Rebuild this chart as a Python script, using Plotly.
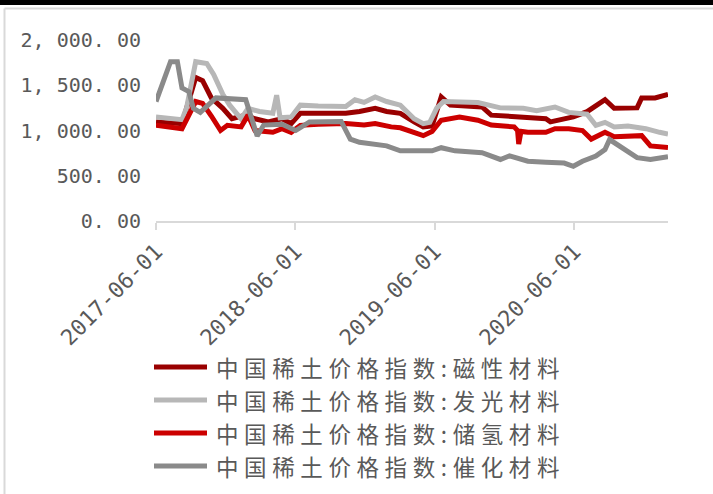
import plotly.graph_objects as go

# ---------------- data ----------------
names = ["中国稀土价格指数:磁性材料", "中国稀土价格指数:发光材料",
         "中国稀土价格指数:储氢材料", "中国稀土价格指数:催化材料"]

mag_dates = ["2017-06-01", "2017-08-08", "2017-09-13", "2017-10-01", "2017-10-24", "2017-11-23",
             "2017-12-17", "2018-01-22", "2018-02-15", "2018-03-22", "2018-04-27", "2018-05-21",
             "2018-06-14", "2018-10-11", "2018-11-16", "2018-12-27", "2019-01-26", "2019-03-03",
             "2019-04-08", "2019-05-02", "2019-05-25", "2019-06-18", "2019-07-12", "2019-10-03",
             "2019-10-27", "2020-01-19", "2020-03-18", "2020-03-30", "2020-05-29", "2020-07-04",
             "2020-08-20", "2020-09-13", "2020-11-12", "2020-11-24", "2020-12-29", "2021-02-01"]
mag_values = [1095, 1075, 1585, 1550, 1360, 1245,
              1130, 1170, 1130, 1095, 1130, 1075,
              1190, 1190, 1210, 1245, 1210, 1190,
              1095, 1040, 1050, 1370, 1280, 1260,
              1170, 1150, 1130, 1095, 1150, 1208,
              1340, 1245, 1250, 1360, 1360, 1400]

lum_dates = ["2017-06-01", "2017-08-08", "2017-08-20", "2017-09-13", "2017-10-12", "2017-10-30",
             "2017-11-23", "2017-12-11", "2018-01-10", "2018-01-28", "2018-02-27", "2018-04-03",
             "2018-04-13", "2018-04-22", "2018-05-21", "2018-06-14", "2018-07-31", "2018-10-11",
             "2018-11-04", "2018-11-28", "2018-12-27", "2019-01-26", "2019-03-03", "2019-04-08",
             "2019-05-02", "2019-05-19", "2019-06-06", "2019-06-24", "2019-09-22", "2019-10-27",
             "2019-11-20", "2020-01-19", "2020-02-23", "2020-04-11", "2020-05-17", "2020-07-04",
             "2020-07-27", "2020-08-20", "2020-09-13", "2020-10-19", "2020-12-05", "2021-01-10",
             "2021-02-01"]
lum_values = [1150, 1120, 1250, 1760, 1740, 1620,
              1400, 1280, 1130, 1245, 1210, 1190,
              1390, 1140, 1150, 1280, 1270, 1265,
              1340, 1310, 1370, 1320, 1280, 1130,
              1075, 1090, 1245, 1320, 1310, 1280,
              1250, 1245, 1220, 1260, 1200, 1180,
              1057, 1090, 1040, 1050, 1020, 980,
              960]

hyd_dates = ["2017-06-01", "2017-08-08", "2017-09-13", "2017-10-01", "2017-10-24", "2017-11-17",
             "2017-12-05", "2018-01-10", "2018-01-28", "2018-02-15", "2018-04-03", "2018-04-27",
             "2018-05-21", "2018-06-14", "2018-07-31", "2018-10-11", "2018-11-28", "2018-12-27",
             "2019-02-07", "2019-03-03", "2019-05-02", "2019-05-25", "2019-06-18", "2019-08-05",
             "2019-09-22", "2019-10-27", "2019-12-26", "2020-01-04", "2020-01-07", "2020-01-13",
             "2020-01-31", "2020-03-18", "2020-04-11", "2020-05-17", "2020-06-22", "2020-07-15",
             "2020-08-20", "2020-09-13", "2020-11-24", "2020-12-17", "2021-02-01"]
hyd_values = [1057, 1020, 1320, 1300, 1160, 1000,
              1057, 1040, 1170, 1000, 980, 1020,
              980, 1057, 1070, 1077, 1060, 1077,
              1040, 1030, 943, 990, 1113, 1150,
              1113, 1060, 1040, 1000, 850, 990,
              980, 980, 1020, 1020, 1000, 905,
              980, 930, 943, 830, 811]

cat_dates = ["2017-06-01", "2017-06-21", "2017-07-09", "2017-07-27", "2017-08-08", "2017-08-26",
             "2017-09-07", "2017-09-25", "2017-11-05", "2018-01-22", "2018-02-21", "2018-03-10",
             "2018-04-27", "2018-06-02", "2018-07-08", "2018-09-29", "2018-10-23", "2018-11-16",
             "2019-01-26", "2019-03-03", "2019-05-25", "2019-06-18", "2019-07-24", "2019-10-03",
             "2019-11-20", "2019-12-14", "2020-01-31", "2020-03-18", "2020-05-05", "2020-05-29",
             "2020-06-22", "2020-07-27", "2020-08-20", "2020-09-01", "2020-09-25", "2020-10-19",
             "2020-11-12", "2020-12-17", "2021-02-01"]
cat_values = [1320, 1560, 1760, 1760, 1470, 1430,
              1245, 1200, 1360, 1340, 940, 1060,
              1070, 1000, 1095, 1100, 905, 870,
              830, 775, 775, 810, 775, 755,
              680, 720, 660, 650, 640, 605,
              660, 717, 790, 900, 830, 760,
              700, 680, 710]

x_ticks = ["2017-06-01", "2018-06-01", "2019-06-01", "2020-06-01"]
y_ticks = [0, 500, 1000, 1500, 2000]
y_tick_labels = ["0. 00", "500. 00", "1, 000. 00", "1, 500. 00", "2, 000. 00"]

# ---------------- styling ----------------
colors = ["#990000", "#b7b7b7", "#cc0000", "#8a8a8a"]
W, H = 713, 494
L, R, T, B = 156, 45, 40, 273
PW, PH = W - L - R, H - T - B
TXT = "#595959"


def px(x):
    return (x - L) / PW


def py(y):
    return (H - B - y) / PH


fig = go.Figure()
series = [(mag_dates, mag_values), (lum_dates, lum_values),
          (hyd_dates, hyd_values), (cat_dates, cat_values)]
for (d, v), n, c in zip(series, names, colors):
    fig.add_trace(go.Scatter(x=d, y=v, name=n, mode="lines",
                             line=dict(color=c, width=5), showlegend=False))

shapes = [
    # frame pieces of the original picture
    dict(type="rect", xref="paper", yref="paper", x0=px(0), x1=px(W), y0=py(0), y1=py(5),
         fillcolor="black", line=dict(width=0), layer="above"),
    dict(type="line", xref="paper", yref="paper", x0=px(4.5), x1=px(W), y0=py(8.5), y1=py(8.5),
         line=dict(color="#d9d9d9", width=2)),
    dict(type="line", xref="paper", yref="paper", x0=px(4.5), x1=px(4.5), y0=py(8.5), y1=py(H),
         line=dict(color="#d9d9d9", width=2)),
]
annotations = []
rows = [367, 400, 433, 466]
for n, c, ry in zip(names, colors, rows):
    shapes.append(dict(type="line", xref="paper", yref="paper", x0=px(154), x1=px(207),
                       y0=py(ry), y1=py(ry), line=dict(color=c, width=5)))
    annotations.append(dict(xref="paper", yref="paper", x=px(214), y=py(ry), text=n,
                            showarrow=False, xanchor="left", yanchor="middle", align="left",
                            font=dict(family="Noto Sans CJK SC", size=22.5, color=TXT)))

fig.update_layout(
    width=W, height=H,
    margin=dict(l=L, r=R, t=T, b=B),
    paper_bgcolor="white", plot_bgcolor="white",
    shapes=shapes, annotations=annotations,
    xaxis=dict(type="date", range=["2017-06-01", "2021-02-01"],
               tickvals=x_ticks, ticktext=x_ticks, tickangle=-45,
               showgrid=False, zeroline=False,
               showline=True, linecolor="#d9d9d9", linewidth=2,
               ticks="outside", ticklen=7, tickcolor="#d9d9d9", tickwidth=2,
               tickfont=dict(family="DejaVu Sans Mono", size=22, color=TXT)),
    yaxis=dict(range=[0, 2000], tickvals=y_ticks, ticktext=y_tick_labels,
               showgrid=False, zeroline=False, showline=False,
               ticks="", ticklabelstandoff=14,
               tickfont=dict(family="DejaVu Sans Mono", size=20, color=TXT)),
)

post = """
document.body.style.margin = '0';
document.body.style.overflow = 'hidden';
var bar = document.createElement('div');
bar.style.cssText = 'position:fixed;left:0;top:0;width:100%;height:5px;background:#000;z-index:10;';
document.body.appendChild(bar);
document.querySelectorAll('.annotation-text').forEach(function(e){
  e.setAttribute('text-anchor', 'start');
  e.style.letterSpacing = '5.6px';
});
"""
fig.write_html("out.html", post_script=post, config={"displayModeBar": False})
